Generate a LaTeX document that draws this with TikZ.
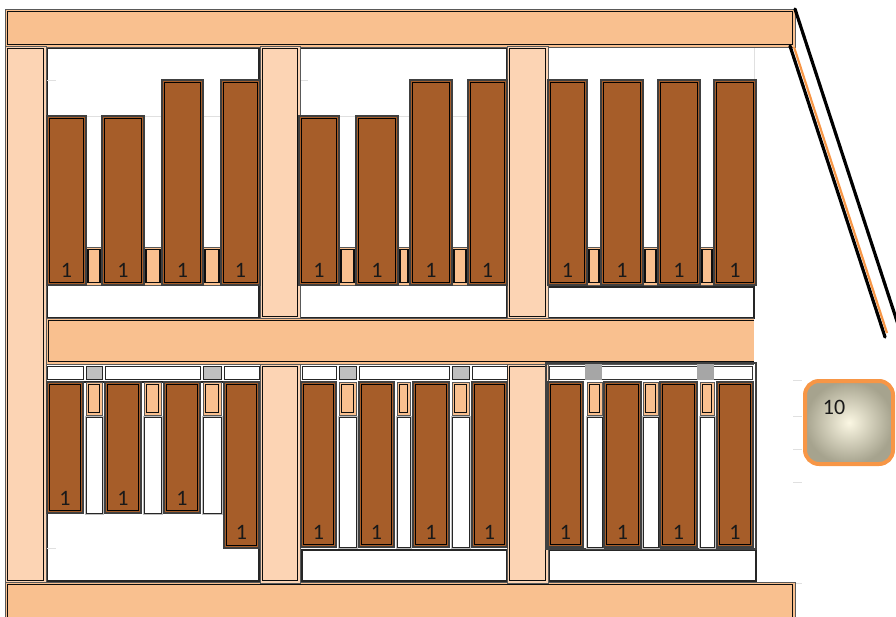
\documentclass[tikz,border=0pt]{standalone}
\usepackage{fontspec}
\setmainfont{Carlito}
\definecolor{beam}{HTML}{F9C08F}
\definecolor{post}{HTML}{FCD4B4}
\definecolor{barc}{HTML}{A65D29}
\definecolor{gry}{HTML}{BFBFBF}
\definecolor{gryd}{HTML}{A6A6A6}
\definecolor{org}{HTML}{F79646}
\definecolor{cream}{HTML}{FBF7E3}
\definecolor{khaki}{HTML}{A6A38E}
\tikzset{
  outerln/.style={draw=black!65,line width=1pt},
  innerln/.style={draw=black!95,line width=1.1pt},
  panel/.style={fill=white,draw=black!85,line width=1.1pt},
  wbar/.style={fill=white,draw=black!85,line width=1pt},
  grid/.style={draw=black!12,line width=0.8pt},
  lbl/.style={anchor=base,inner sep=0pt,text=black!90,font=\fontsize{22}{22}\selectfont},
  diag/.style={line width=3.2pt,line cap=round,black},
}
\newcommand\dbox[5]{%
  \fill[#1] (#2,#3) rectangle (#4,#5);
  \draw[outerln] (#2,#3) rectangle (#4,#5);
  \draw[innerln] (#2+2.5,#3+2.5) rectangle (#4-2.5,#5-2.5);
}
\newcommand\bbox[4]{%
  \fill[barc] (#1,#2) rectangle (#3,#4);
  \draw[draw=black!75,line width=1.1pt] (#1,#2) rectangle (#3,#4);
  \draw[draw=black,line width=1.3pt] (#1+2.2,#2+2.2) rectangle (#3-2.2,#4-2.2);
}
\begin{document}
\begin{tikzpicture}[x=1pt,y=-1pt]
\useasboundingbox (0,0) rectangle (896,616);
\clip (0,0) rectangle (896,616);
% panels
\draw[panel] (47,48) rectangle (259,318);
\draw[panel] (299,48) rectangle (507,318);
\fill[white] (548,48) rectangle (754,318);
\draw[grid] (754,48) -- (754,80);
\draw[panel] (548,287) rectangle (754,318);
\draw[panel] (47,382) rectangle (259,581);
\draw[panel] (302,550) rectangle (507,581);
\draw[panel] (549,550) rectangle (756,581);
% grid lines
\draw[grid] (47,116.5) -- (259,116.5);
\draw[grid] (299,116.5) -- (507,116.5);
\draw[grid] (47,80.5) -- (56,80.5);
\draw[grid] (299,80.5) -- (308,80.5);
\draw[grid] (47,513.5) -- (56,513.5);
\draw[grid] (47,548.5) -- (56,548.5);
\draw[grid] (202,513.5) -- (224,513.5);
\foreach \yy in {380,416,449,482,583} \draw[grid] (793,\yy) -- (802,\yy);
% frame beams and posts
\dbox{beam}{5}{9}{795}{47}
\dbox{post}{5}{46}{46}{583}
\dbox{beam}{5}{582}{795}{622}
\dbox{post}{260}{46}{300}{319}
\dbox{post}{260}{364}{300}{583}
\dbox{post}{507}{46}{548}{319}
\dbox{post}{507}{364}{548}{583}
\fill[beam] (46,318) rectangle (754,364);
\draw[outerln] (46,364) -- (46,318) -- (754,318);
\draw[outerln] (46,364) -- (754,364);
\draw[innerln] (754,320.5) -- (48.5,320.5) -- (48.5,361.5) -- (754,361.5);
% top row blocks
\foreach \a/\b in {86/102,144/162,203/221,339/356,398/410,452/468,587/601,643/658,700/714}
  \dbox{beam}{\a-0.5}{247}{\b+0.5}{285}
% top row bars
\foreach \a/\b/\t [count=\i] in {47/86/116,102/144/116,162/203/80,221/260/80,299/339/116,356/398/116,410/452/80,468/507/80,548/587/80,601/643/80,658/700/80,714/756/80}{
  \bbox{\a}{\t}{\b}{285}
  \node[lbl] (top\i) at ({(\a+\b)/2},277) {1};
}
% bottom row strip
\draw[draw=black!75,line width=1.1pt] (546,363) rectangle (756,549);
\foreach \a/\b in {47/83,105/200,224/259,302/336,359/449,472/507}
  \draw[wbar] (\a,366) rectangle (\b,379);
\foreach \a/\b in {86/102,203/221,339/356,452/469}
  \draw[fill=gry,draw=black!85,line width=1pt] (\a,366) rectangle (\b,379);
\fill[white] (549,366) rectangle (752,379);
\draw[draw=black!80,line width=1pt] (549,366) rectangle (752,379);
\fill[gryd] (585,364) rectangle (602,380);
\fill[gryd] (697,364) rectangle (714,380);
% bottom row blocks and white bars
\foreach \a/\b/\e in {86/102/513,144/161/513,203/221/513,339/356/547,397/410/547,452/469/547,587/602/547,643/658/547,700/714/547}{
  \dbox{beam}{\a}{382}{\b}{415}
  \draw[draw=black!25,line width=0.8pt] (\a-1,416) rectangle (\b+1,\e+1);
  \draw[wbar] (\a,417) rectangle (\b,\e);
}
% bottom row bars
\foreach \a/\b/\e/\l [count=\i] in {47/83/513/505,105/141/513/505,164/200/513/505,224/259/548/539,301/336/547/539,359/394/547/539,413/449/547/539,472/507/547/539,548/583/547/539,604/641/547/539,660/697/547/539,717/753/547/539}{
  \bbox{\a}{382}{\b}{\e}
  \node[lbl] (bot\i) at ({(\a+\b)/2},\l) {1};
}
% diagonal lines
\coordinate (d1s) at (795,9);
\coordinate (d1e) at (908,355);
\coordinate (d2s) at (790,46);
\coordinate (d2e) at (885,337);
\coordinate (d3s) at (794,47);
\coordinate (d3e) at (887,333);
\draw[diag] (d1s) -- (d1e);
\draw[diag] (d2s) -- (d2e);
\draw[org,line width=2.2pt] (d3s) -- (d3e);
% value box
\shade[inner color=cream,outer color=khaki,rounded corners=14pt] (805,381) rectangle (893,464);
\draw[org,line width=4pt,rounded corners=14pt] (805,381) rectangle (893,464) node[pos=0,inner sep=0pt] (vbox) {};
\node[lbl] (ten) at (834,414) {10};
\end{tikzpicture}
\end{document}
